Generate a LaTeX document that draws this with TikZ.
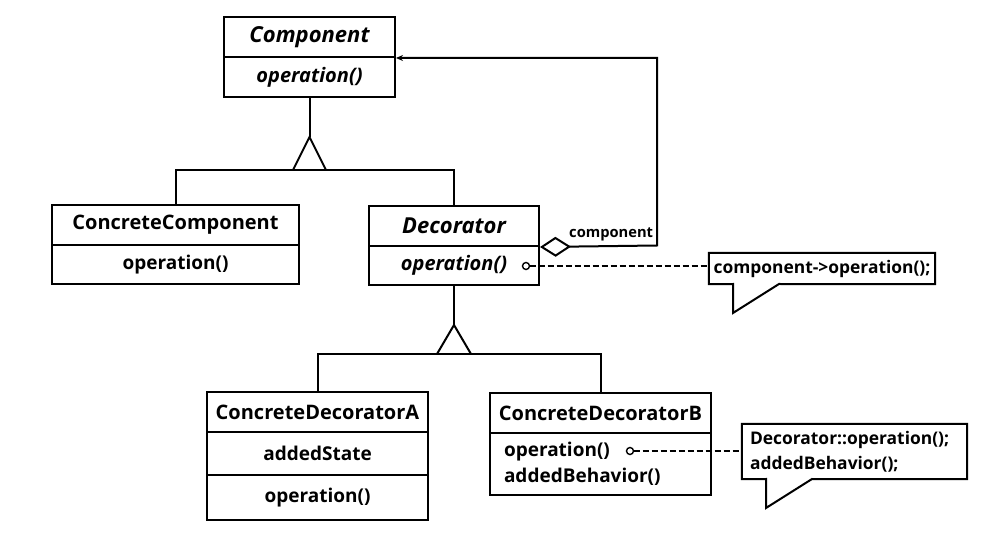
\documentclass[tikz,border=0pt]{standalone}
\usepackage{fontspec}
\setmainfont{Open Sans}
\usetikzlibrary{arrows.meta}
\begin{document}
\begin{tikzpicture}[x=1pt,y=-1pt,
  every node/.style={font=\bfseries\fontsize{19}{26}\selectfont},
  box/.style={draw, line width=2pt, inner sep=0pt, anchor=center},
  hdr/.style={font=\bfseries\fontsize{20}{26}\selectfont},
  ital/.style={font=\bfseries\itshape\fontsize{22}{26}\selectfont},
  italop/.style={font=\bfseries\itshape\fontsize{20}{26}\selectfont},
  ln/.style={line width=2pt},
  dsh/.style={line width=1.6pt, dash pattern=on 6pt off 3pt},
  notetext/.style={inner sep=0pt, font=\bfseries\fontsize{17.4}{25}\selectfont}]
\useasboundingbox (0,0) rectangle (1005,537);
% Component
\node[box,ital,minimum width=171,minimum height=40] (comph) at (309.5,37) {Component};
\node[box,italop,minimum width=171,minimum height=40] (compo) at (309.5,77) {operation()};
% ConcreteComponent
\node[box,hdr,minimum width=247,minimum height=40] (cch) at (175.5,225) {ConcreteComponent};
\node[box,minimum width=247,minimum height=39] (cco) at (175.5,264.5) {operation()};
% Decorator
\node[box,ital,minimum width=170,minimum height=40] (dech) at (454,226) {Decorator};
\node[box,italop,minimum width=170,minimum height=39] (deco) at (454,265.5) {operation()\hspace{22pt}};
% ConcreteDecoratorA
\node[box,hdr,minimum width=221,minimum height=40] (cdah) at (317.5,412) {ConcreteDecoratorA};
\node[box,minimum width=221,minimum height=43] (cdaa) at (317.5,453.5) {addedState};
\node[box,minimum width=221,minimum height=45] (cdao) at (317.5,497.5) {operation()};
% ConcreteDecoratorB
\node[box,hdr,minimum width=221,minimum height=40] (cdbh) at (600.5,413) {ConcreteDecoratorB};
\node[box,minimum width=221,minimum height=62,text width=193,inner xsep=14pt,align=left] (cdbo) at (600.5,464) {operation()\\addedBehavior()};
% generalization 1
\coordinate (apex1) at (309.5,137);
\coordinate (g1) at (309.5,170);
\draw[ln] (compo.south) -- (apex1);
\draw[ln,line join=miter] (293,170) -- (apex1) -- (326,170);
\draw[ln] (cch.north) |- (g1) -| (dech.north);
% generalization 2
\coordinate (apex2) at (454,325);
\coordinate (g2) at (454,354);
\draw[ln] (deco.south) -- (apex2);
\draw[ln,line join=miter] (437,354) -- (apex2) -- (471,354);
\draw[ln] (cdah.north) |- (g2) -| (cdbh.north);
% aggregation
\coordinate (agg) at (657,245.5);
\draw[ln,{Diamond[open,length=31pt,width=20pt,line width=2pt]}-{Stealth[length=7pt,width=6pt]}] (dech.south east) -- (agg) |- (comph.south east);
\node[font=\bfseries\fontsize{14.7}{16}\selectfont,anchor=south west,inner sep=0pt] (lbl) at (569,241) {component};
% note 1
\node[notetext,minimum width=226,minimum height=31] (n1) at (822,268.5) {component->operation();};
\draw[ln,line join=miter] (n1.north west) -- (n1.north east) -- (n1.south east) -- (779,284) -- (733,313) -- (733,284) -- (n1.south west) -- cycle;
\coordinate (c1) at (526,266);
\draw[dsh] (c1) ++(3.5,0) -- (c1 -| n1.west);
\draw[line width=1.4pt,fill=white] (c1) circle (3.5);
% note 2
\node[notetext,minimum width=225,minimum height=55,text width=209,inner xsep=8pt,align=left] (n2) at (854.5,451.5) {Decorator::operation();\\addedBehavior();};
\draw[ln,line join=miter] (n2.north west) -- (n2.north east) -- (n2.south east) -- (812,479) -- (766,508) -- (766,479) -- (n2.south west) -- cycle;
\coordinate (c2) at (630,451);
\draw[dsh] (c2) ++(3.5,0) -- (c2 -| n2.west);
\draw[line width=1.4pt,fill=white] (c2) circle (3.5);
\end{tikzpicture}
\end{document}
